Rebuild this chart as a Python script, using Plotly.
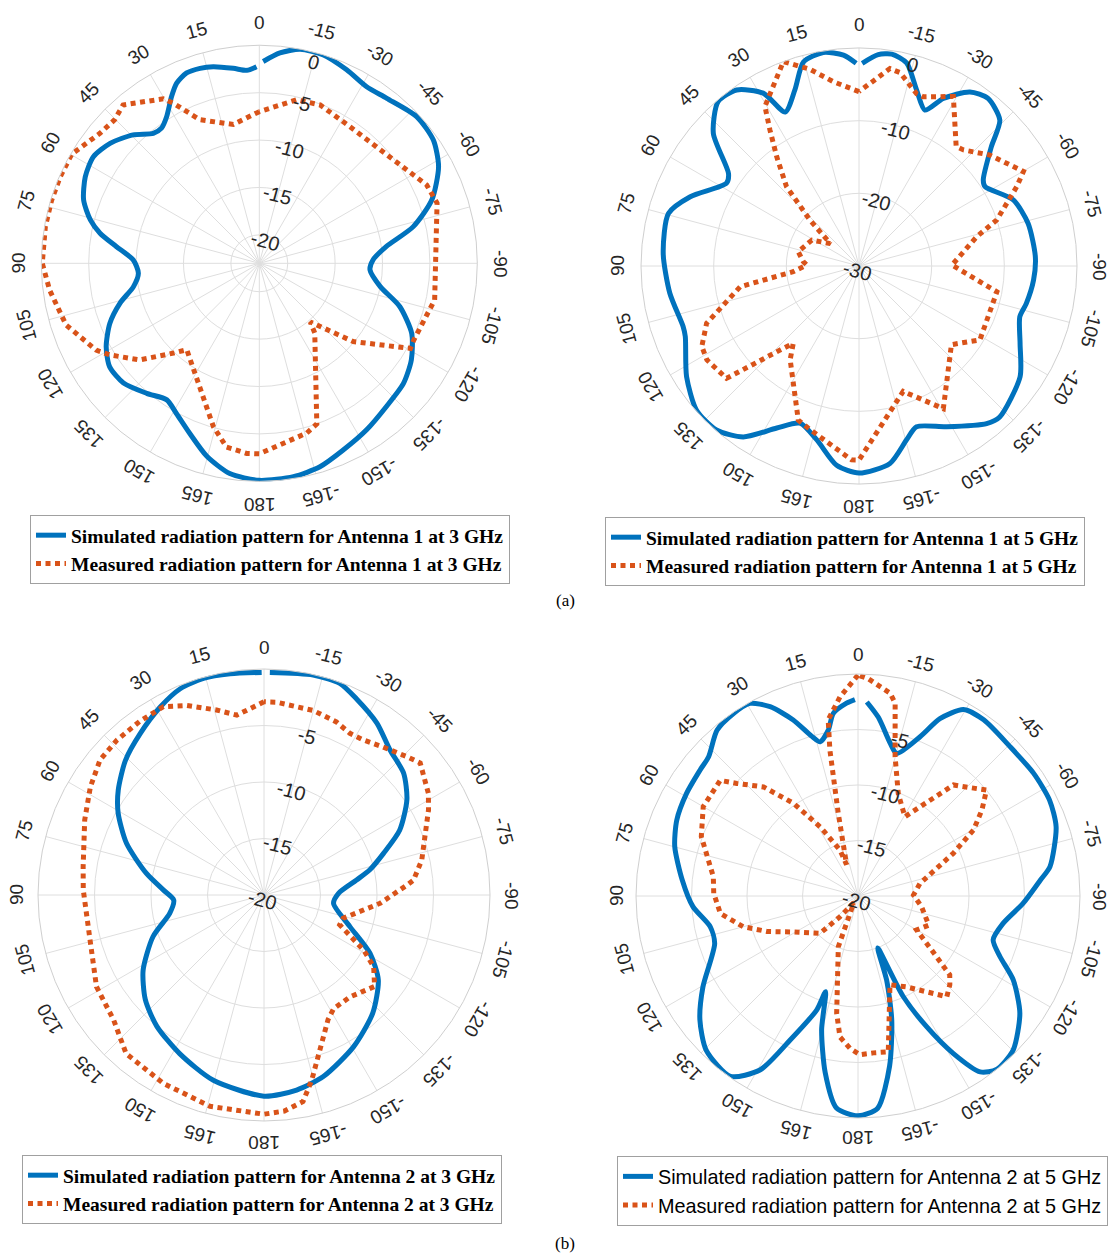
import math
import plotly.graph_objects as go

W, H = 1110, 1255
BLUE = "#0072BD"
ORANGE = "#D95319"
GRID = "#dedede"
RIM = "#cfcfcf"
TEXT = "#262626"

# ---------------- angular ticks (degrees, 0 at top, positive to the left)
angle_ticks = list(range(0, 360, 15))
angle_labels = [str(a) if a <= 180 else str(a - 360) for a in angle_ticks]

# ---------------- Antenna 1 at 3 GHz
a1_3g_sim_theta = [0.8, 3.7, 7.6, 13.2, 16.9, 20.9, 24.7, 27.7, 32.3, 35.9, 39.2, 44.5, 51.2, 57.3, 63.6,
                   70.2, 75.6, 79.3, 83.3, 88.5, 94.7, 100.5, 106, 111.9, 118.6, 124.7, 131.4, 139.1, 145.9,
                   151.1, 157.8, 164.8, 172, 180, -170.9, -163.4, -155.8, -147.2, -138.4, -129.8, -122.4,
                   -114.7, -107.1, -100.9, -93.4, -88.3, -82.5, -76.6, -69.8, -61.6, -54.7, -47, -37.7,
                   -31.3, -24.3, -17.1, -10.8, -5.6, -1.1]
a1_3g_sim_db = [-2.25, -2.6, -2.25, -1.7, -1.5, -1.5, -2.1, -3.1, -4.7, -5.4, -5.3, -4.0, -2.8, -2.2, -2.5,
                -3.3, -4.6, -5.9, -7.8, -9.7, -10.2, -9.5, -7.7, -6.0, -4.6, -3.8, -3.9, -4.85, -5.6,
                -4.9, -3.6, -1.9, -0.6, -0.1, -0.2, -0.6, -1.4, -2.1, -2.8, -3.2, -4.0,
                -5.3, -7.5, -10.0, -11.3, -11.0, -9.5, -6.3, -3.6, -1.5, -0.5, -0.3, -1.0,
                -1.2, -0.6, 0.0, 0.0, -0.7, -1.7]
a1_3g_meas_theta = [0, 10.6, 22.5, 28.3, 30.3, 40.7, 45.2, 50.8, 55.2, 59.8, 66.7, 73.2, 80.3, 90, 97.3,
                    107.7, 118, 121.5, 129, 136.3, 140, 164.3, 169.9, 176.2, 180, -164.4, -160.3, -141.5,
                    -139, -129.8, -119.4, -116.5, -101.8, -71.3, -64.9, -33.6, -21, -12.9, 0]
a1_3g_meas_db = [-7.0, -8.1, -6.6, -3.8, -2.9, -0.96, -1.5, -1.3, -0.8, -0.1, -0.1, -0.1, -0.1, -0.1, -0.7,
                 -1.6, -3.5, -4.5, -6.8, -9.9, -11.1, -5.1, -3.3, -2.9, -2.9, -4.4, -5.0, -13.6,
                 -14.8, -10.1, -4.7, -4.8, -4.1, -3.2, -3.5, -5.7, -5.1, -5.3, -7.0]
a1_3g_r_ticks = [-20, -15, -10, -5, 0]
a1_3g_names = ["Simulated radiation pattern for Antenna 1 at 3 GHz",
               "Measured radiation pattern for Antenna 1 at 3 GHz"]

# ---------------- Antenna 1 at 5 GHz
a1_5g_sim_theta = [0.8, 4.2, 9.5, 15.2, 20, 25.6, 29, 34.8, 40.6, 47.7, 54.7, 58, 67.7, 74.6, 86.3,
                   98.2, 109, 112.1, 122.7, 131.6, 139, 145.9, 153.1, 159.4, 166.3, 173.6, 180, -171.1,
                   -164.7, -160.3, -151.4, -141, -137, -124.5, -115.7, -107.5, -102.6, -94.6, -87, -75.9,
                   -66.8, -57.8, -55.3, -48, -44, -37.6, -32.5, -26.7, -22.9, -18.1, -13.2, -8.8, -5.2, -0.9]
a1_5g_sim_db = [-2.1, -0.9, -0.2, -0.9, -4.2, -6.5, -2.8, -0.5, -0.2, -2.9, -8.0, -8.5, -4.9, -2.8, -3.0,
                -3.7, -4.4, -4.2, -1.8, -0.1, -0.1, -1.6, -5.0, -6.9, -5.4, -2.4, -1.5, -2.5,
                -5.2, -6.5, -4.8, -2.1, -1.6, -3.1, -5.4, -6.8, -6.4, -5.9, -5.7, -6.0,
                -6.9, -9.5, -9.2, -5.5, -2.1, -0.9, -1.6, -4.2, -6.7, -4.5, -1.3, -0.5, -0.8, -2.1]
a1_5g_meas_theta = [0, 7.9, 14, 20.3, 30.5, 33.2, 37, 42.4, 46.8, 52, 61.2, 76.7, 85.5, 88.9, 94.9,
                    99.9, 110.6, 117.1, 121.7, 130.3, 137.4, 139.7, 143.7, 158.5, 163.4, 177.8, 180,
                    -160.6, -149.4, -130.4, -121.4, -100.6, -89.4, -76, -71.5, -63.3, -60.1, -49.7,
                    -42, -39.1, -29.1, -20.8, -18.5, -12, -8.9, 0]
a1_5g_meas_db = [-6.0, -4.4, -2.1, 0.0, -4.5, -7.6, -11.2, -15.2, -20.7, -25.0, -22.6, -21.4, -22.3, -22.8, -20.9,
                 -13.4, -7.6, -5.7, -5.4, -6.1, -14.6, -16.0, -14.0, -7.2, -6.5, -3.3, -3.3,
                 -11.7, -7.2, -13.3, -10.5, -10.7, -17.2, -13.3, -10.0, -5.7, -3.9, -6.4,
                 -8.5, -8.8, -3.3, -5.1, -5.0, -2.8, -2.5, -6.0]
a1_5g_r_ticks = [-30, -20, -10, 0]
a1_5g_names = ["Simulated radiation pattern for Antenna 1 at 5 GHz",
               "Measured radiation pattern for Antenna 1 at 5 GHz"]

# ---------------- Antenna 2 at 3 GHz
a2_3g_sim_theta = [0.6, 8.7, 15.6, 22.1, 28.9, 37.5, 45.8, 54.2, 60.7, 69.4, 79.5, 87.2, 93.2, 101, 110.6,
                   121.9, 131.4, 140.8, 152, 164.7, 180, -170.5, -161.9, -149.5, -137.3, -126.6, -118.8,
                   -110.2, -96.9, -88.7, -80.8, -76.7, -70.8, -64.5, -56.3, -48.9, -41, -33.3, -25.2,
                   -19.7, -12.6, -1.5]
a2_3g_sim_db = [-0.3, -0.2, -0.1, -0.3, -1.0, -2.0, -2.9, -4.1, -5.2, -7.0, -9.4, -11.1, -12.0, -11.5, -9.5,
                -7.4, -6.0, -5.0, -4.1, -3.0, -2.2, -2.5, -3.1, -4.4, -5.8, -7.4, -9.3,
                -11.9, -13.8, -13.4, -11.7, -10.4, -8.8, -6.7, -4.8, -3.6, -3.0, -1.8, -0.8,
                -0.1, -0.05, -0.3]
a2_3g_meas_theta = [0, 8.6, 14.4, 22.1, 28.1, 35.6, 43.5, 50.5, 58.1, 67.3, 81.1, 88.4, 104.5, 118.7, 129.7,
                    139, 151.9, 165.7, 180, -174.6, -169.3, -165.5, -152.8, -148.5, -139.8, -129.6, -123.2,
                    -119, -111.5, -106.4, -94.1, -86, -84.3, -77.5, -62.6, -58.3, -49.8, -45.9, -38.8,
                    -32.7, -28, -22.7, -14.9, -3.7, 0]
a2_3g_meas_db = [-2.9, -3.9, -3.1, -1.9, -1.1, -1.1, -1.1, -1.2, -1.9, -2.8, -3.8, -4.0, -4.1, -3.1, -2.7,
                 -1.4, -1.1, -0.7, -0.6, -0.8, -1.4, -3.1, -7.6, -8.2, -8.2, -7.3, -8.4,
                 -9.9, -12.8, -12.7, -9.7, -7.3, -6.7, -5.7, -3.6, -2.9, -1.9, -2.4, -3.2,
                 -3.7, -3.8, -3.4, -3.1, -2.9, -2.9]
a2_3g_r_ticks = [-20, -15, -10, -5]
a2_3g_names = ["Simulated radiation pattern for Antenna 2 at 3 GHz",
               "Measured radiation pattern for Antenna 2 at 3 GHz"]

# ---------------- Antenna 2 at 5 GHz
a2_5g_sim_theta = [0.9, 3.4, 7.7, 10.1, 13.8, 16.2, 20.2, 24.9, 29.3, 34.5, 40.4, 47, 51.4, 59.1, 67.3,
                   74.9, 84.8, 93.7, 101.7, 108.3, 120.4, 128.1, 135.5, 144.7, 150.6, 154.7, 160.1, 161.3,
                   164.8, 169.5, 174.2, 180, -174.7, -169.5, -164.8, -161.2, -159.2, -155.8, -152.3,
                   -148.8, -145.2, -141.4, -134.8, -125.9, -118.4, -113.1, -108, -100.7, -92.5, -85,
                   -81.3, -70.8, -63.4, -55, -45.5, -35.5, -29.5, -24.8, -21.3, -15.2, -11.8, -6.5, -2.6]
a2_5g_sim_db = [-2.3, -2.6, -3.4, -4.8, -5.7, -5.0, -3.1, -1.2, -0.1, -0.1, -0.4, -1.6, -1.8, -2.0, -2.3,
                -2.9, -4.1, -5.1, -6.4, -6.4, -3.8, -1.9, -0.5, -0.1, -2.0, -5.6, -9.1, -10.9,
                -7.5, -3.8, -0.8, -0.2, -0.8, -4.4, -8.4, -12.0, -15.0, -10.1, -6.7,
                -3.4, -0.7, 0.0, -0.3, -2.0, -4.1, -6.1, -7.2, -6.7, -5.1, -3.5,
                -2.5, -1.1, -0.7, -0.7, -0.8, -0.5, -0.7, -2.4, -4.6, -6.7, -5.9, -3.8, -2.5]
a2_5g_meas_theta = [0, 5.2, 9.6, 10.9, 13.4, 20.1, 21.4, 28.7, 34.9, 40.9, 47.1, 50, 60, 69.2, 82.4,
                    88.9, 97.2, 105, 111.3, 118.9, 134.5, 139, 148, 158.8, 169.7, 172.7, 177, -179.3,
                    -174.4, -169, -160.2, -151.8, -138.6, -134, -130.7, -126.2, -120.1, -112.4, -99.5,
                    -89, -78.5, -65.9, -60.2, -55.2, -50.5, -42.8, -40.7, -30.6, -21.5, -14.9, -10.9,
                    -9, -2.7, 0]
a2_5g_meas_db = [-0.1, -2.0, -3.9, -6.6, -12.3, -17.0, -15.55, -12.9, -9.8, -7.0, -5.1, -3.8, -3.9, -4.9, -6.85,
                 -7.0, -7.5, -9.3, -11.2, -13.3, -15.2, -17.5, -19.3, -15.1, -9.25, -7.2, -6.25, -5.7,
                 -5.8, -5.7, -11.5, -10.7, -7.9, -8.5, -9.1, -11.8, -13.9, -13.1, -14.2,
                 -15.0, -14.3, -10.6, -8.0, -6.4, -5.0, -6.5, -6.8, -11.7, -10.1, -7.0, -2.3,
                 -1.5, -0.4, -0.1]
a2_5g_r_ticks = [-20, -15, -10, -5]
a2_5g_names = ["Simulated radiation pattern for Antenna 2 at 5 GHz",
               "Measured radiation pattern for Antenna 2 at 5 GHz"]

captions = ["(a)", "(b)"]

# ---------------- panel geometry and styling (pixels on the page)
serif_bold = dict(family="Liberation Serif", size=19.5, weight="bold", color="black")
sans_plain = dict(family="Liberation Sans", size=19.8, color="black")

panels = [
    dict(sub="polar", leg="legend", cx=259.3, cy=263.3, R=218, rrange=[-23, 0], rticks=a1_3g_r_ticks,
         sim=(a1_3g_sim_theta, a1_3g_sim_db), meas=(a1_3g_meas_theta, a1_3g_meas_db),
         names=a1_3g_names, leg_x=30, leg_y=515, leg_font=serif_bold, lab_gap=23),
    dict(sub="polar2", leg="legend2", cx=859, cy=266, R=218, rrange=[-30, 0], rticks=a1_5g_r_ticks,
         sim=(a1_5g_sim_theta, a1_5g_sim_db), meas=(a1_5g_meas_theta, a1_5g_meas_db),
         names=a1_5g_names, leg_x=605, leg_y=517, leg_font=serif_bold, lab_gap=23),
    dict(sub="polar3", leg="legend3", cx=264, cy=895, R=226, rrange=[-20, 0], rticks=a2_3g_r_ticks,
         sim=(a2_3g_sim_theta, a2_3g_sim_db), meas=(a2_3g_meas_theta, a2_3g_meas_db),
         names=a2_3g_names, leg_x=22, leg_y=1155, leg_font=serif_bold, lab_gap=22),
    dict(sub="polar4", leg="legend4", cx=858, cy=896, R=222, rrange=[-20, 0], rticks=a2_5g_r_ticks,
         sim=(a2_5g_sim_theta, a2_5g_sim_db), meas=(a2_5g_meas_theta, a2_5g_meas_db),
         names=a2_5g_names, leg_x=617, leg_y=1156, leg_font=sans_plain, lab_gap=20),
]


def paper(px, py):
    return px / W, 1 - py / H


fig = go.Figure()
annotations = []
layout = {}

for p in panels:
    cx, cy, R = p["cx"], p["cy"], p["R"]
    fig.add_trace(go.Scatterpolar(
        r=p["sim"][1], theta=p["sim"][0], mode="lines", name=p["names"][0],
        line=dict(color=BLUE, width=5, shape="spline", smoothing=0.7),
        subplot=p["sub"], legend=p["leg"]))
    fig.add_trace(go.Scatterpolar(
        r=p["meas"][1], theta=p["meas"][0], mode="lines", name=p["names"][1],
        line=dict(color=ORANGE, width=5, dash="5px,4.5px"),
        subplot=p["sub"], legend=p["leg"]))

    layout[p["sub"]] = dict(
        domain=dict(x=[(cx - R) / W, (cx + R) / W], y=[1 - (cy + R) / H, 1 - (cy - R) / H]),
        bgcolor="white",
        radialaxis=dict(range=p["rrange"], tickvals=p["rticks"], showticklabels=False, ticks="",
                        showline=False, gridcolor=GRID, gridwidth=1),
        angularaxis=dict(rotation=90, direction="counterclockwise", tickvals=angle_ticks,
                         showticklabels=False, ticks="", showline=True, linecolor=RIM,
                         linewidth=1, gridcolor=GRID, gridwidth=1),
    )
    layout[p["leg"]] = dict(
        x=p["leg_x"] / W, y=1 - p["leg_y"] / H, xanchor="left", yanchor="top",
        bgcolor="white", bordercolor="#a0a0a0", borderwidth=1, font=p["leg_font"],
        itemwidth=30, tracegroupgap=0, traceorder="normal")

    # angle labels, turned to follow the rim
    r_lab = R + p["lab_gap"]
    for a, txt in zip(angle_ticks, angle_labels):
        rad = math.radians(a)
        x, y = paper(cx - r_lab * math.sin(rad), cy - r_lab * math.cos(rad))
        signed = a if a <= 180 else a - 360
        annotations.append(dict(x=x, y=y, xref="paper", yref="paper", text=txt, showarrow=False,
                                xanchor="center", yanchor="middle", textangle=-signed,
                                font=dict(family="Liberation Sans", size=19, color=TEXT)))

    # radial labels along the -15 degree spoke
    lo, hi = p["rrange"]
    for v in p["rticks"]:
        inset = 10 if v == hi else 5
        rp = (v - lo) / (hi - lo) * R - inset
        rad = math.radians(15)
        x, y = paper(cx + rp * math.sin(rad), cy - rp * math.cos(rad))
        annotations.append(dict(x=x, y=y, xref="paper", yref="paper", text=str(v), showarrow=False,
                                xanchor="center", yanchor="middle", textangle=15,
                                font=dict(family="Liberation Sans", size=20, color=TEXT)))

for txt, (px, py) in zip(captions, [(565, 600), (565, 1243)]):
    x, y = paper(px, py)
    annotations.append(dict(x=x, y=y, xref="paper", yref="paper", text=txt, showarrow=False,
                            xanchor="center", yanchor="middle",
                            font=dict(family="Liberation Serif", size=17, color="black")))

fig.update_layout(
    width=W, height=H, autosize=False,
    margin=dict(l=0, r=0, t=0, b=0),
    paper_bgcolor="white", plot_bgcolor="white",
    showlegend=True,
    annotations=annotations,
    **layout,
)

fig.write_html("out.html")
